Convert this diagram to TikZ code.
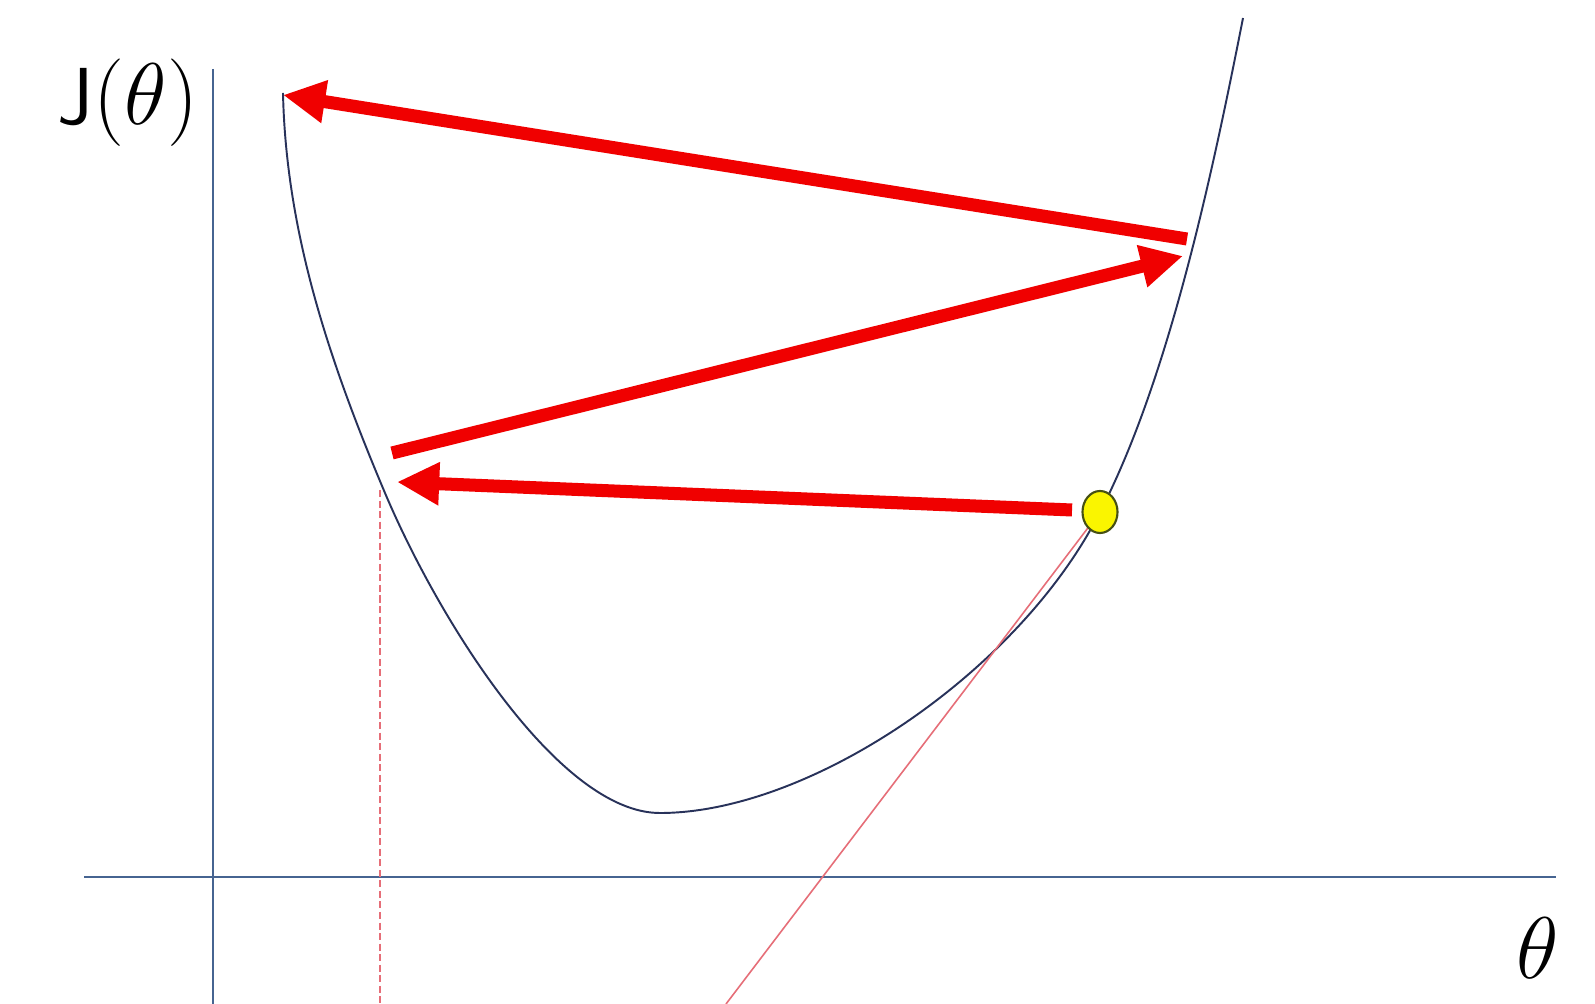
\documentclass[tikz,border=0pt]{standalone}
\usepackage{fontspec}
\usetikzlibrary{arrows.meta,shapes.geometric}
\definecolor{axisblue}{RGB}{70,100,145}
\definecolor{curvenavy}{RGB}{40,50,90}
\definecolor{arrowred}{RGB}{240,0,0}
\definecolor{tanred}{RGB}{230,110,120}
\definecolor{dotyellow}{RGB}{250,245,0}
\definecolor{dotedge}{RGB}{70,80,20}
\tikzset{
  axisline/.style={draw=axisblue, line width=0.75pt},
  costcurve/.style={draw=curvenavy, line width=0.55pt},
  steparrow/.style={draw=arrowred, line width=3.7pt, -{Triangle[length=12pt,width=11.5pt]}, line cap=butt},
  tanline/.style={draw=tanred, line width=0.45pt},
  dropline/.style={draw=tanred, line width=0.5pt, dash pattern=on 2pt off 1pt},
  lbl/.style={inner sep=0pt, font=\fontsize{23}{27}\selectfont, text=black}
}
\begin{document}
\begin{tikzpicture}[x=0.01cm, y=-0.01cm]
\useasboundingbox[fill=white] (0,0) rectangle (1595,1004);
% axes
\coordinate (ytop) at (213,69);
\coordinate (ybot) at (213,1004);
\coordinate (xl) at (84,877);
\coordinate (xr) at (1556,877);
\draw[axisline] (ytop) -- (ybot);
\draw[axisline] (xl) -- (xr);
% labels
\node[lbl] (jlabel) at (128,103) {\textsf{J}$(\theta)$};
\node[lbl] (tlabel) at (1538,948) {$\theta$};
% curve
\coordinate (c0) at (283,93);
\coordinate (c1) at (385,493);
\coordinate (c2) at (660,813);
\coordinate (dotc) at (1100,512);
\coordinate (c4) at (1243,18);
\draw[costcurve] (c0) .. controls (286,233) and (330,363) .. (c1)
  .. controls (440,623) and (560,813) .. (c2)
  .. controls (810,813) and (1019,672) .. (dotc)
  .. controls (1170,377) and (1214,165) .. (c4);
% tangent and drop lines
\coordinate (tanend) at (726,1004);
\coordinate (droptop) at (380,490);
\coordinate (dropbot) at (380,1004);
\draw[tanline] (dotc) -- (tanend);
\draw[dropline] (droptop) -- (dropbot);
% arrows
\coordinate (a1s) at (1187,239);
\coordinate (a1e) at (283,95);
\coordinate (a2s) at (392,453);
\coordinate (a2e) at (1183,256);
\coordinate (a3s) at (1072,510);
\coordinate (a3e) at (397,482);
\draw[steparrow] (a1s) -- (a1e);
\draw[steparrow] (a2s) -- (a2e);
\draw[steparrow] (a3s) -- (a3e);
% point
\node[ellipse, draw=dotedge, fill=dotyellow, line width=0.6pt, minimum width=0.35cm, minimum height=0.42cm, inner sep=0pt] (dot) at (dotc) {};
\end{tikzpicture}
\end{document}
